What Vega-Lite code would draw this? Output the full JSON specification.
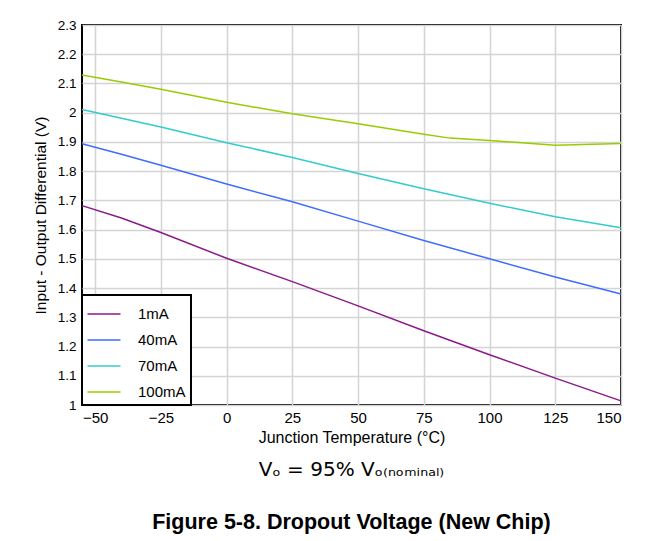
{
  "$schema": "https://vega.github.io/schema/vega-lite/v6.json",
  "width": 539,
  "height": 380,
  "autosize": {"type": "none"},
  "padding": {"left": 82, "top": 25, "right": 42, "bottom": 136},
  "background": "white",
  "config": {
    "font": "Liberation Sans",
    "view": {"stroke": "black", "strokeWidth": 2},
    "axis": {
      "domain": false,
      "ticks": false,
      "gridColor": "#d4d4d4",
      "gridWidth": 1.5,
      "labelColor": "black",
      "titleColor": "black",
      "labelFontSize": 15,
      "titleFontSize": 15.5,
      "titleFontWeight": "normal",
      "labelFont": "Liberation Sans",
      "titleFont": "Liberation Sans"
    },
    "legend": {
      "orient": "bottom-left",
      "offset": 0,
      "padding": 5,
      "rowPadding": 4,
      "strokeColor": "black",
      "strokeWidth": 2,
      "fillColor": "white",
      "cornerRadius": 0,
      "labelFontSize": 15,
      "labelColor": "black",
      "labelFont": "Liberation Sans"
    }
  },
  "title": {
    "text": "Vₒ =  95% Vₒ₍ₙₒₘᵢₙₐₗ₎",
    "subtitle": "Figure 5-8. Dropout Voltage (New Chip)",
    "orient": "bottom",
    "anchor": "middle",
    "frame": "group",
    "fontSize": 20,
    "fontWeight": "normal",
    "color": "black",
    "font": "DejaVu Sans",
    "subtitleFont": "Liberation Sans",
    "subtitleFontSize": 21.5,
    "subtitleFontWeight": "bold",
    "subtitleColor": "black",
    "subtitlePadding": 32,
    "offset": 15
  },
  "data": {
    "values": [
      {"series": "1mA", "temp": -55, "v": 1.682},
      {"series": "1mA", "temp": -40, "v": 1.640},
      {"series": "1mA", "temp": -25, "v": 1.590},
      {"series": "1mA", "temp": 0, "v": 1.502},
      {"series": "1mA", "temp": 25, "v": 1.422},
      {"series": "1mA", "temp": 50, "v": 1.339},
      {"series": "1mA", "temp": 75, "v": 1.254},
      {"series": "1mA", "temp": 100, "v": 1.172},
      {"series": "1mA", "temp": 125, "v": 1.092},
      {"series": "1mA", "temp": 150, "v": 1.014},
      {"series": "40mA", "temp": -55, "v": 1.894},
      {"series": "40mA", "temp": -40, "v": 1.858},
      {"series": "40mA", "temp": -25, "v": 1.820},
      {"series": "40mA", "temp": 0, "v": 1.756},
      {"series": "40mA", "temp": 25, "v": 1.695},
      {"series": "40mA", "temp": 50, "v": 1.629},
      {"series": "40mA", "temp": 75, "v": 1.563},
      {"series": "40mA", "temp": 100, "v": 1.500},
      {"series": "40mA", "temp": 125, "v": 1.438},
      {"series": "40mA", "temp": 150, "v": 1.380},
      {"series": "70mA", "temp": -55, "v": 2.011},
      {"series": "70mA", "temp": -40, "v": 1.981},
      {"series": "70mA", "temp": -25, "v": 1.951},
      {"series": "70mA", "temp": 0, "v": 1.897},
      {"series": "70mA", "temp": 25, "v": 1.847},
      {"series": "70mA", "temp": 50, "v": 1.792},
      {"series": "70mA", "temp": 75, "v": 1.740},
      {"series": "70mA", "temp": 100, "v": 1.690},
      {"series": "70mA", "temp": 125, "v": 1.644},
      {"series": "70mA", "temp": 150, "v": 1.606},
      {"series": "100mA", "temp": -55, "v": 2.129},
      {"series": "100mA", "temp": -40, "v": 2.105},
      {"series": "100mA", "temp": -25, "v": 2.080},
      {"series": "100mA", "temp": 0, "v": 2.036},
      {"series": "100mA", "temp": 25, "v": 1.996},
      {"series": "100mA", "temp": 50, "v": 1.962},
      {"series": "100mA", "temp": 75, "v": 1.926},
      {"series": "100mA", "temp": 85, "v": 1.913},
      {"series": "100mA", "temp": 100, "v": 1.905},
      {"series": "100mA", "temp": 125, "v": 1.889},
      {"series": "100mA", "temp": 150, "v": 1.895}
    ]
  },
  "mark": {"type": "line", "strokeWidth": 1.5},
  "encoding": {
    "x": {
      "field": "temp",
      "type": "quantitative",
      "scale": {"domain": [-55, 150], "nice": false, "zero": false},
      "axis": {
        "values": [-50, -25, 0, 25, 50, 75, 100, 125, 150],
        "title": "Junction Temperature (°C)",
        "titleFontSize": 16,
        "labelPadding": 5,
        "titlePadding": 4
      }
    },
    "y": {
      "field": "v",
      "type": "quantitative",
      "scale": {"domain": [1, 2.3], "nice": false, "zero": false},
      "axis": {
        "values": [1, 1.1, 1.2, 1.3, 1.4, 1.5, 1.6, 1.7, 1.8, 1.9, 2, 2.1, 2.2, 2.3],
        "format": ".1~f",
        "title": "Input - Output Differential (V)",
        "labelFontSize": 13.5,
        "labelPadding": 6,
        "titlePadding": 9
      }
    },
    "color": {
      "field": "series",
      "type": "nominal",
      "sort": ["1mA", "40mA", "70mA", "100mA"],
      "scale": {
        "domain": ["1mA", "40mA", "70mA", "100mA"],
        "range": ["#8a1a8a", "#3f6bff", "#33cccc", "#99cc00"]
      },
      "legend": {
        "title": null,
        "symbolType": "M-1.27,0H1.27",
        "symbolSize": 676,
        "symbolStrokeWidth": 1.5,
        "symbolOffset": 3,
        "labelOffset": 20
      }
    }
  }
}
